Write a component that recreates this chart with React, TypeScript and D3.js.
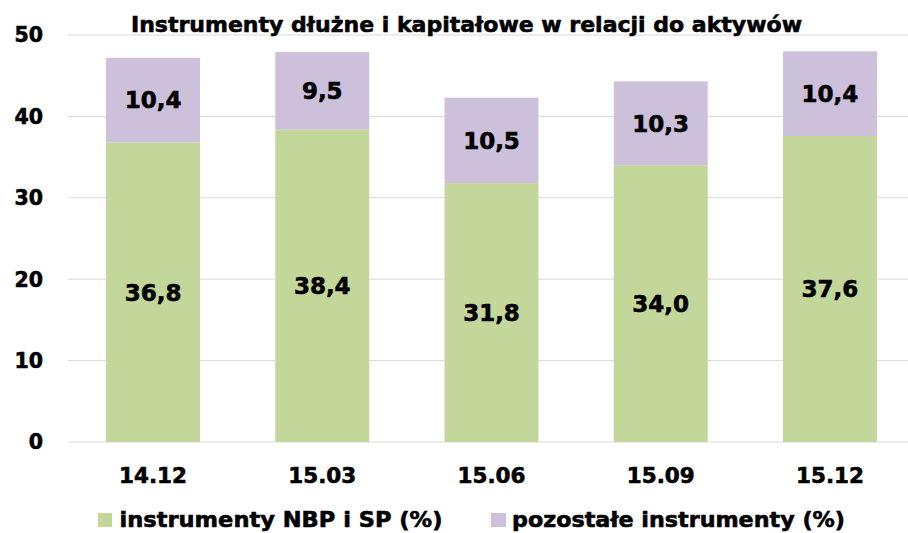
import React from "react";
import * as d3 from "d3";

const categories = ["14.12", "15.03", "15.06", "15.09", "15.12"];
const nbpValues = [36.8, 38.4, 31.8, 34.0, 37.6];
const otherValues = [10.4, 9.5, 10.5, 10.3, 10.4];
const yTicks = [0, 10, 20, 30, 40, 50];
const seriesNames = ["instrumenty NBP i SP (%)", "pozostałe instrumenty (%)"];
const title = "Instrumenty dłużne i kapitałowe w relacji do aktywów";

const W = 908;
const H = 533;
const FONT = "'DejaVu Sans', Verdana, sans-serif";
const GREEN = "#C4D79B";
const PURPLE = "#CCC0DA";
const heavy = { stroke: "#000", strokeWidth: 0.6 };

const fmt = (v: number) => v.toFixed(1).replace(".", ",");

export default function App() {
  const y = d3.scaleLinear().domain([0, 50]).range([442, 35]);
  const x = d3
    .scaleBand<string>()
    .domain(categories)
    .range([68.4, 914.6])
    .paddingInner(0.445)
    .paddingOuter(0.2225);

  const rows = categories.map((c, i) => ({ c, a: nbpValues[i], b: otherValues[i] }));
  const stack = d3.stack<any>().keys(["a", "b"])(rows as any);
  const colors = [GREEN, PURPLE];

  return (
    <svg
      width={W}
      height={H}
      style={{ position: "absolute", left: 0, top: 0, display: "block" }}
      fontFamily={FONT}
    >
      <rect width={W} height={H} fill="#fff" />
      {yTicks.map((t) => (
        <g key={t}>
          <line x1={68} x2={908} y1={y(t)} y2={y(t)} stroke="#D9D9D9" strokeWidth={1} />
          <text
            x={43}
            y={y(t)}
            dy="0.36em"
            textAnchor="end"
            fontSize={20.5}
            fontWeight="bold"
            {...heavy}
          >
            {t}
          </text>
        </g>
      ))}
      {stack.map((layer, li) =>
        layer.map((d, i) => {
          const x0 = x(categories[i])!;
          const y0 = y(d[1]);
          const h = y(d[0]) - y(d[1]);
          const v = li === 0 ? nbpValues[i] : otherValues[i];
          return (
            <g key={`${li}-${i}`}>
              <rect x={x0} y={y0} width={x.bandwidth()} height={h} fill={colors[li]} />
              <text
                x={x0 + x.bandwidth() / 2}
                y={y0 + h / 2}
                dy="0.36em"
                textAnchor="middle"
                fontSize={23}
                fontWeight="bold"
                {...heavy}
              >
                {fmt(v)}
              </text>
            </g>
          );
        })
      )}
      {categories.map((c) => (
        <text
          key={c}
          x={x(c)! + x.bandwidth() / 2}
          y={483}
          textAnchor="middle"
          fontSize={21.5}
          fontWeight="bold"
          {...heavy}
        >
          {c}
        </text>
      ))}
      <text x={466.5} y={32} textAnchor="middle" fontSize={22} fontWeight="bold" textLength={671} lengthAdjust="spacingAndGlyphs" {...heavy}>
        {title}
      </text>
      <rect x={98} y={513} width={14} height={14} fill={GREEN} />
      <text x={119.5} y={527} fontSize={21.5} fontWeight="bold" textLength={323} lengthAdjust="spacingAndGlyphs" {...heavy}>
        {seriesNames[0]}
      </text>
      <rect x={491} y={513} width={15} height={14} fill={PURPLE} />
      <text x={512} y={527} fontSize={21.5} fontWeight="bold" textLength={333} lengthAdjust="spacingAndGlyphs" {...heavy}>
        {seriesNames[1]}
      </text>
    </svg>
  );
}
